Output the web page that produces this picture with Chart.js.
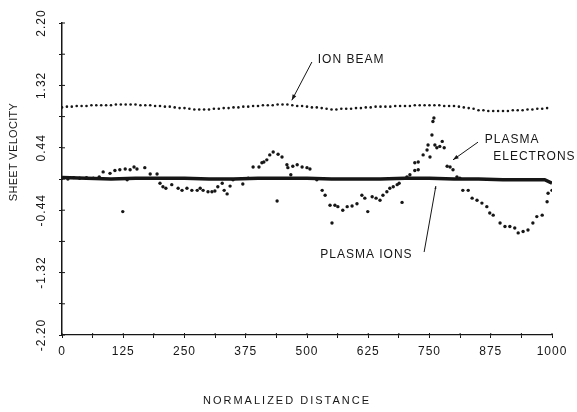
<!DOCTYPE html>
<html>
<head>
<meta charset="utf-8">
<script src="https://cdn.jsdelivr.net/npm/chart.js@4.4.1/dist/chart.umd.min.js"></script>
<style>
  html, body { margin: 0; padding: 0; background: #fff; }
  #wrap { width: 577px; height: 412px; }
</style>
</head>
<body>
<div id="wrap"><canvas id="chart" width="577" height="412"></canvas></div>
<script>
// 1. DATA SUMBU
const xTicks = [0, 62.5, 125, 187.5, 250, 312.5, 375, 437.5, 500, 562.5, 625, 687.5, 750, 812.5, 875, 937.5, 1000];
const xLabelValues = [0, 125, 250, 375, 500, 625, 750, 875, 1000];
const xLabels = ["0", "125", "250", "375", "500", "625", "750", "875", "1000"];
const yTicks = [-2.2, -1.76, -1.32, -0.88, -0.44, 0, 0.44, 0.88, 1.32, 1.76, 2.2];
const yLabelValues = [2.2, 1.32, 0.44, -0.44, -1.32, -2.2];
const yLabels = ["2.20", "1.32", "0.44", "-0.44", "-1.32", "-2.20"];

// 2. DATA SERI
// Ion beam: satu titik tiap 10 satuan jarak (0 - 990)
const beamV = [
  1.01, 1.02, 1.02, 1.03, 1.03, 1.03, 1.04, 1.04, 1.04, 1.04,
  1.04, 1.05, 1.05, 1.05, 1.05, 1.05, 1.04, 1.04, 1.04, 1.03,
  1.03, 1.02, 1.02, 1.01, 1.00, 1.00, 0.99, 0.98, 0.98, 0.98,
  0.98, 0.99, 0.99, 1.00, 1.00, 1.01, 1.01, 1.02, 1.02, 1.03,
  1.03, 1.04, 1.04, 1.04, 1.05, 1.05, 1.05, 1.04, 1.03, 1.03,
  1.02, 1.01, 1.01, 1.00, 0.99, 0.98, 0.98, 0.99, 0.99, 0.99,
  1.00, 1.00, 1.01, 1.01, 1.02, 1.02, 1.02, 1.02, 1.03, 1.03,
  1.03, 1.03, 1.04, 1.04, 1.04, 1.04, 1.04, 1.04, 1.03, 1.03,
  1.03, 1.02, 1.01, 1.00, 0.99, 0.97, 0.97, 0.96, 0.96, 0.96,
  0.96, 0.96, 0.97, 0.97, 0.97, 0.98, 0.98, 0.99, 0.99, 1.00,
];
const beamX = beamV.map((_, i) => i * 10);

// Plasma electrons: garis tebal di sekitar nol
const elecX = [0, 50, 100, 150, 200, 250, 300, 350, 400, 450, 500, 550, 600, 650, 700, 750, 800, 850, 900, 950, 985, 1000];
const elecV = [0.02, 0.01, 0.0, 0.01, 0.01, 0.01, 0.0, 0.0, 0.01, 0.01, 0.01, 0.0, 0.0, 0.0, 0.01, 0.01, 0.0, 0.0, -0.01, -0.01, -0.01, -0.06];

// Plasma ions: titik tersebar
const ionX = [
  0, 12, 24, 36, 50, 64, 76,
  84, 98, 108, 118, 129, 133, 124, 139, 147, 153, 169, 180, 194,
  200, 206, 212, 224, 237, 245, 255, 265, 276, 282, 288, 298, 306, 312, 318, 327, 331, 337, 343, 349,
  369, 380, 390, 402, 408, 412, 418, 424, 431, 441, 449, 439, 459, 461, 467, 471, 480, 490, 500, 506,
  520, 531, 537, 547, 557, 563, 573, 582, 592, 602, 551, 612, 618, 624, 633, 641, 649, 655, 663, 669, 676, 684, 688, 694,
  704, 710, 720, 727, 720, 727, 737, 745, 747, 755, 751, 761, 765, 771, 776, 780, 757, 759,
  786, 792, 798, 806, 812, 818, 829, 837, 847, 857, 867, 873, 880, 894, 904, 914, 924, 931, 941, 951, 961, 969, 980, 990, 992, 1000,
];
const ionV = [
  0.01, 0.0, 0.02, 0.01, 0.02, 0.01, 0.03,
  0.10, 0.08, 0.12, 0.13, 0.14, -0.01, -0.46, 0.13, 0.17, 0.14, 0.16, 0.07, 0.07,
  -0.06, -0.11, -0.13, -0.08, -0.13, -0.16, -0.13, -0.16, -0.16, -0.13, -0.16, -0.18, -0.18, -0.17, -0.11, -0.06, -0.16, -0.21, -0.10, -0.01,
  -0.07, 0.01, 0.17, 0.17, 0.23, 0.24, 0.27, 0.34, 0.38, 0.35, 0.31, -0.31, 0.20, 0.16, 0.06, 0.18, 0.20, 0.17, 0.16, 0.14,
  -0.01, -0.16, -0.23, -0.37, -0.37, -0.39, -0.44, -0.39, -0.38, -0.35, -0.62, -0.23, -0.27, -0.46, -0.25, -0.27, -0.30, -0.23, -0.18, -0.13, -0.11, -0.08, -0.06, -0.33,
  0.03, 0.06, 0.12, 0.13, 0.23, 0.24, 0.34, 0.41, 0.48, 0.62, 0.31, 0.48, 0.44, 0.46, 0.53, 0.44, 0.81, 0.86,
  0.18, 0.17, 0.13, 0.03, 0.01, -0.16, -0.16, -0.27, -0.30, -0.34, -0.39, -0.48, -0.51, -0.62, -0.67, -0.67, -0.69, -0.76, -0.74, -0.72, -0.62, -0.53, -0.51, -0.32, -0.20, -0.16,
];

const toPoints = (xs, vs) => xs.map((x, i) => ({ x, y: vs[i] }));

// 3. TEKS KETERANGAN + PANAH (koordinat data)
const FONT = '"Liberation Sans", Arial, sans-serif';
const INK = "#161616";
const notes = [
  { text: "ION BEAM", x: 522, y: 1.68 },
  { text: "PLASMA", x: 863, y: 0.55 },
  { text: "ELECTRONS", x: 880, y: 0.31 },
  { text: "PLASMA IONS", x: 527, y: -1.07 },
];
const arrows = [
  { from: [510, 1.65], to: [469, 1.11], head: 6 },
  { from: [849, 0.52], to: [798, 0.27], head: 6 },
  { from: [739, -1.03], to: [763, -0.1], head: 3 },
];

function drawArrow(ctx, x1, y1, x2, y2, head) {
  ctx.beginPath();
  ctx.moveTo(x1, y1);
  ctx.lineTo(x2, y2);
  ctx.stroke();
  const a = Math.atan2(y2 - y1, x2 - x1);
  ctx.beginPath();
  ctx.moveTo(x2, y2);
  ctx.lineTo(x2 - head * Math.cos(a - 0.35), y2 - head * Math.sin(a - 0.35));
  ctx.lineTo(x2 - head * Math.cos(a + 0.35), y2 - head * Math.sin(a + 0.35));
  ctx.closePath();
  ctx.fill();
}

// jarak huruf ala huruf stensil
const spacing = {
  id: "spacing",
  beforeLayout(chart) { chart.ctx.letterSpacing = "1px"; },
  beforeDraw(chart) { chart.ctx.letterSpacing = "1px"; },
};

const notesPlugin = {
  id: "notesPlugin",
  afterDraw(chart) {
    const { ctx, chartArea, scales: { x, y } } = chart;
    ctx.save();
    ctx.fillStyle = INK;
    ctx.strokeStyle = INK;
    ctx.lineWidth = 1;

    // tanda tick yang menembus sumbu
    yTicks.forEach((v) => {
      const py = y.getPixelForValue(v);
      ctx.beginPath();
      ctx.moveTo(chartArea.left, py);
      ctx.lineTo(chartArea.left + 3, py);
      ctx.stroke();
    });
    xTicks.forEach((v) => {
      const px = x.getPixelForValue(v);
      ctx.beginPath();
      ctx.moveTo(px, chartArea.bottom);
      ctx.lineTo(px, chartArea.bottom - 2);
      ctx.stroke();
    });

    // label sumbu Y (diputar)
    ctx.letterSpacing = "1px";
    ctx.font = "12px " + FONT;
    ctx.textAlign = "center";
    ctx.textBaseline = "middle";
    yLabelValues.forEach((v, i) => {
      ctx.save();
      ctx.translate(42, y.getPixelForValue(v));
      ctx.rotate(-Math.PI / 2);
      ctx.fillText(yLabels[i], 0, 0);
      ctx.restore();
    });

    // judul sumbu
    ctx.font = "11px " + FONT;
    ctx.letterSpacing = "0.3px";
    ctx.save();
    ctx.translate(14, 152);
    ctx.rotate(-Math.PI / 2);
    ctx.fillText("SHEET VELOCITY", 0, 0);
    ctx.restore();
    ctx.letterSpacing = "2px";
    ctx.fillText("NORMALIZED DISTANCE", 287, 401);

    // keterangan kurva
    ctx.font = "12px " + FONT;
    ctx.letterSpacing = "1px";
    ctx.textAlign = "left";
    notes.forEach((n) => {
      ctx.fillText(n.text, x.getPixelForValue(n.x), y.getPixelForValue(n.y));
    });

    arrows.forEach((a) => {
      drawArrow(ctx,
        x.getPixelForValue(a.from[0]), y.getPixelForValue(a.from[1]),
        x.getPixelForValue(a.to[0]), y.getPixelForValue(a.to[1]), a.head);
    });
    ctx.restore();
  },
};

// 4. CHART
const ctx = document.getElementById("chart").getContext("2d");
new Chart(ctx, {
  type: "scatter",
  data: {
    datasets: [
      {
        label: "Plasma Electrons",
        data: toPoints(elecX, elecV),
        showLine: true,
        borderColor: INK,
        borderWidth: 3.5,
        pointRadius: 0,
        tension: 0,
        order: 2,
      },
      {
        label: "Plasma Ions",
        data: toPoints(ionX, ionV),
        backgroundColor: INK,
        borderWidth: 0,
        pointRadius: 1.7,
        order: 1,
      },
      {
        label: "Ion Beam",
        data: toPoints(beamX, beamV),
        backgroundColor: INK,
        borderWidth: 0,
        pointRadius: 1.3,
        order: 3,
      },
    ],
  },
  options: {
    responsive: false,
    devicePixelRatio: 1,
    animation: false,
    layout: { padding: { left: 0, right: 25, top: 23, bottom: 0 } },
    plugins: { legend: { display: false }, tooltip: { enabled: false } },
    scales: {
      x: {
        type: "linear",
        min: 0,
        max: 1000,
        afterBuildTicks: (s) => { s.ticks = xTicks.map((v) => ({ value: v })); },
        afterFit: (s) => { s.height = 77; },
        grid: { drawOnChartArea: false, drawTicks: true, tickLength: 3, color: INK, lineWidth: 1 },
        border: { display: true, color: INK, width: 1.2, dash: [7, 4] },
        ticks: {
          color: INK,
          font: { family: FONT, size: 12 },
          padding: 6,
          maxRotation: 0,
          autoSkip: false,
          callback: (v) => {
            const i = xLabelValues.indexOf(v);
            return i >= 0 ? xLabels[i] : "";
          },
        },
        title: { display: false },
      },
      y: {
        min: -2.2,
        max: 2.2,
        afterBuildTicks: (s) => { s.ticks = yTicks.map((v) => ({ value: v })); },
        afterFit: (s) => { s.width = 62; },
        grid: { drawOnChartArea: false, drawTicks: true, tickLength: 3, color: INK, lineWidth: 1 },
        border: { display: true, color: INK, width: 1.5 },
        ticks: { display: false },
        title: { display: false },
      },
    },
  },
  plugins: [spacing, notesPlugin],
});
</script>
</body>
</html>
